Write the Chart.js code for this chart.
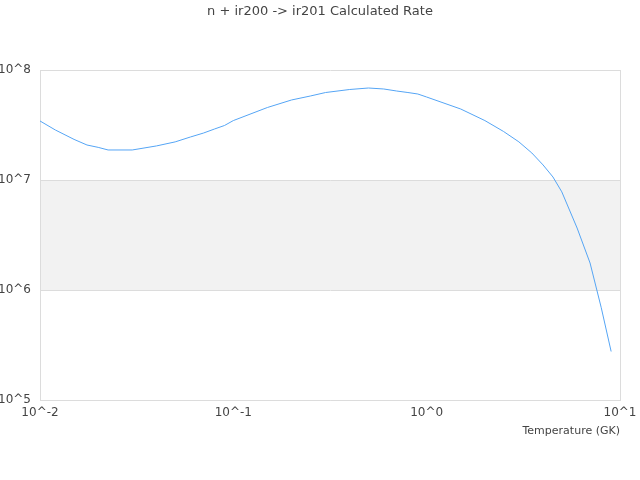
<!DOCTYPE html>
<html>
<head>
<meta charset="utf-8">
<script src="https://cdn.jsdelivr.net/npm/chart.js@4/dist/chart.umd.min.js"></script>
<style>
  html, body { margin: 0; padding: 0; background: #fff; }
  #wrap { width: 640px; height: 480px; }
</style>
</head>
<body>
<div id="wrap"><canvas id="rateChart"></canvas></div>
<script>
// temperature grid (GK) and rate
const temps = [0.01, 0.012, 0.015, 0.0175, 0.02, 0.0225, 0.03, 0.04, 0.05, 0.06, 0.07, 0.08, 0.09,
  0.1, 0.15, 0.2, 0.25, 0.3, 0.4, 0.5, 0.6, 0.7, 0.8, 0.9,
  1, 1.5, 2, 2.5, 3, 3.5, 4, 4.5, 5, 6, 7, 8, 9];
const rates = [3.44e7, 2.85e7, 2.34e7, 2.08e7, 1.98e7, 1.875e7, 1.875e7, 2.04e7, 2.22e7, 2.46e7, 2.67e7, 2.91e7, 3.13e7,
  3.47e7, 4.56e7, 5.34e7, 5.80e7, 6.24e7, 6.65e7, 6.86e7, 6.72e7, 6.44e7, 6.24e7, 6.05e7,
  5.68e7, 4.42e7, 3.47e7, 2.76e7, 2.22e7, 1.76e7, 1.37e7, 1.065e7, 7.8e6, 3.66e6, 1.76e6, 6.9e5, 2.76e5];
const xTicks = [0.01, 0.1, 1, 10];
const yTicks = [1e5, 1e6, 1e7, 1e8];
const bands = [[1e6, 1e7]];
const titleText = 'n + ir200 -> ir201 Calculated Rate';

const FONT = 'DejaVu Sans';
const TEXT = '#444';

// shaded band between decades
const bandPlugin = {
  id: 'bands',
  beforeDraw(chart) {
    const { ctx, chartArea, scales } = chart;
    ctx.save();
    ctx.fillStyle = '#f2f2f2';
    bands.forEach(b => {
      const top = scales.y.getPixelForValue(b[1]);
      const bot = scales.y.getPixelForValue(b[0]);
      ctx.fillRect(chartArea.left, top, chartArea.right - chartArea.left, bot - top);
    });
    ctx.restore();
  }
};

// title centred on the whole canvas
const titlePlugin = {
  id: 'pageTitle',
  afterDraw(chart) {
    const ctx = chart.ctx;
    ctx.save();
    ctx.fillStyle = TEXT;
    ctx.font = '13px "' + FONT + '"';
    ctx.textAlign = 'center';
    ctx.textBaseline = 'middle';
    ctx.fillText(titleText, chart.width / 2, 12);
    ctx.restore();
  }
};

const supLabel = v => '10^' + Math.round(Math.log10(v));

new Chart(document.getElementById('rateChart'), {
  type: 'line',
  data: {
    datasets: [{
      data: temps.map((t, i) => ({ x: t, y: rates[i] })),
      borderColor: 'rgb(85,165,245)',
      borderWidth: 1,
      pointRadius: 0,
      tension: 0,
      fill: false
    }]
  },
  options: {
    responsive: true,
    maintainAspectRatio: false,
    animation: false,
    layout: { padding: { left: 0, right: 20, top: 70, bottom: 36 } },
    plugins: {
      legend: { display: false },
      tooltip: { enabled: false },
      title: { display: false }
    },
    scales: {
      x: {
        type: 'logarithmic',
        min: 0.01,
        max: 10,
        afterBuildTicks: s => { s.ticks = xTicks.map(v => ({ value: v })); },
        afterFit: s => { s.height = 44; s.paddingRight = 0; s.paddingLeft = 0; },
        ticks: {
          color: TEXT,
          font: { family: FONT, size: 12 },
          padding: 6,
          maxRotation: 0,
          autoSkip: false,
          callback: v => supLabel(v)
        },
        grid: {
          drawTicks: false,
          color: c => (c.tick && (c.tick.value === 0.01 || c.tick.value === 10)) ? '#dcdcdc' : 'rgba(0,0,0,0)'
        },
        border: { display: true, color: '#dcdcdc' },
        title: {
          display: true,
          text: 'Temperature (GK)',
          align: 'end',
          color: TEXT,
          font: { family: FONT, size: 11 },
          padding: { top: 0, bottom: 6 }
        }
      },
      y: {
        type: 'logarithmic',
        min: 1e5,
        max: 1e8,
        afterBuildTicks: s => { s.ticks = yTicks.map(v => ({ value: v })); },
        afterFit: s => { s.width = 40; s.paddingTop = 0; s.paddingBottom = 0; },
        ticks: {
          color: TEXT,
          font: { family: FONT, size: 12 },
          padding: 9,
          autoSkip: false,
          callback: v => supLabel(v)
        },
        grid: { drawTicks: false, color: '#dcdcdc' },
        border: { display: true, color: '#dcdcdc' }
      }
    }
  },
  plugins: [bandPlugin, titlePlugin]
});
</script>
</body>
</html>
